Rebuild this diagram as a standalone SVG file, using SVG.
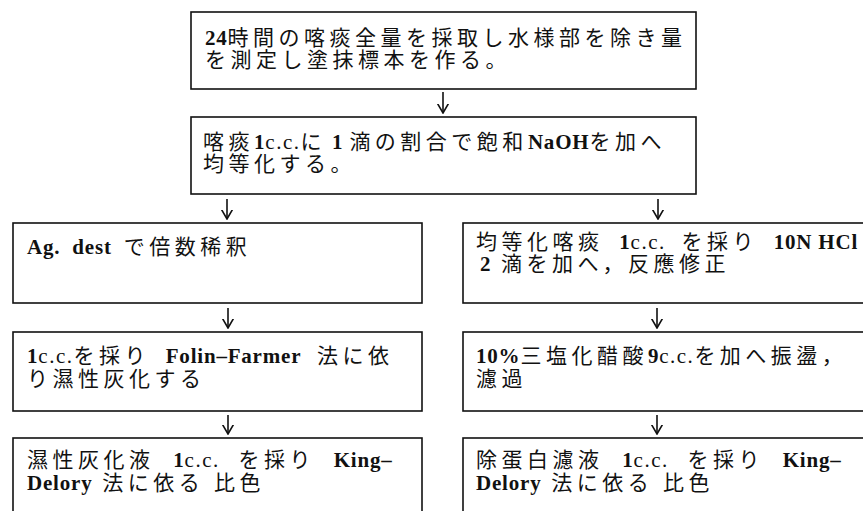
<svg xmlns="http://www.w3.org/2000/svg" width="863" height="511" viewBox="0 0 863 511">
<style>
.box{fill:none;stroke:#111;stroke-width:1.6}
.t{font-family:"Liberation Serif","Noto Sans CJK JP",serif;font-size:21px;fill:#111;letter-spacing:4.5px}
.b{font-weight:bold;letter-spacing:0.8px;word-spacing:0}
.n{letter-spacing:1.5px}
.w{word-spacing:6px}
.ww{word-spacing:9px}
.ar{fill:none;stroke:#111;stroke-width:1.6}
</style>
<defs>
<marker id="ah" viewBox="0 0 10 12" refX="9.5" refY="6" markerWidth="10" markerHeight="12" markerUnits="userSpaceOnUse" orient="auto">
<path d="M0,0.5 L9.5,6 L0,11.5" fill="none" stroke="#111" stroke-width="1.6"/>
</marker>
</defs>
<rect width="863" height="511" fill="#fff"/>
<g id="n1">
<rect class="box" x="191" y="12" width="505" height="77"/>
<text class="t" x="205" y="45"><tspan class="b">24</tspan>時間の喀痰全量を採取し水様部を除き量</text>
<text class="t" x="205" y="67">を測定し塗抹標本を作る。</text>
</g>
<g id="n2">
<rect class="box" x="191" y="117" width="505" height="77"/>
<text class="t" x="203" y="149">喀痰<tspan class="b">1</tspan><tspan class="n">c.c.</tspan>に<tspan class="b"> 1 </tspan>滴の割合で飽和<tspan class="b">NaOH</tspan>を加へ</text>
<text class="t" x="203" y="171">均等化する。</text>
</g>
<g id="n3">
<rect class="box" x="13" y="223" width="409" height="80"/>
<text class="t" x="27" y="254"><tspan class="b" style="word-spacing:6px">Ag. dest </tspan> で倍数稀釈</text>
</g>
<g id="n4">
<rect class="box" x="463" y="223" width="420" height="80"/>
<text class="t w" x="476" y="249">均等化喀痰 <tspan class="b">1</tspan><tspan class="n">c.c.</tspan> を採り <tspan class="b">10N HCl</tspan></text>
<text class="t" x="480" y="271"><tspan class="b">2</tspan> 滴を加へ，反應修正</text>
</g>
<g id="n5">
<rect class="box" x="13" y="332" width="409" height="79"/>
<text class="t w" x="27" y="363"><tspan class="b">1</tspan><tspan class="n">c.c.</tspan>を採り <tspan class="b">Folin–Farmer</tspan> 法に依</text>
<text class="t" x="27" y="386">り濕性灰化する</text>
</g>
<g id="n6">
<rect class="box" x="463" y="332" width="420" height="79"/>
<text class="t" x="476" y="363"><tspan class="b">10%</tspan>三塩化醋酸<tspan class="b">9</tspan><tspan class="n">c.c.</tspan>を加へ振盪，</text>
<text class="t" x="476" y="386">濾過</text>
</g>
<g id="n7">
<rect class="box" x="13" y="438" width="409" height="90"/>
<text class="t ww" x="27" y="467">濕性灰化液  <tspan class="b">1</tspan><tspan class="n">c.c.</tspan> を採り <tspan class="b">King–</tspan></text>
<text class="t" x="27" y="490"><tspan class="b">Delory</tspan> 法に依る 比色</text>
</g>
<g id="n8">
<rect class="box" x="463" y="438" width="420" height="90"/>
<text class="t ww" x="476" y="467">除蛋白濾液  <tspan class="b">1</tspan><tspan class="n">c.c.</tspan> を採り <tspan class="b">King–</tspan></text>
<text class="t" x="476" y="490"><tspan class="b">Delory</tspan> 法に依る 比色</text>
</g>
<g id="connectors">
<line class="ar" x1="443" y1="92" x2="443" y2="113" marker-end="url(#ah)"/>
<line class="ar" x1="227" y1="199" x2="227" y2="219" marker-end="url(#ah)"/>
<line class="ar" x1="658" y1="199" x2="658" y2="219" marker-end="url(#ah)"/>
<line class="ar" x1="228" y1="308" x2="228" y2="328" marker-end="url(#ah)"/>
<line class="ar" x1="657" y1="308" x2="657" y2="328" marker-end="url(#ah)"/>
<line class="ar" x1="228" y1="415" x2="228" y2="434" marker-end="url(#ah)"/>
<line class="ar" x1="657" y1="415" x2="657" y2="434" marker-end="url(#ah)"/>
</g>
</svg>
